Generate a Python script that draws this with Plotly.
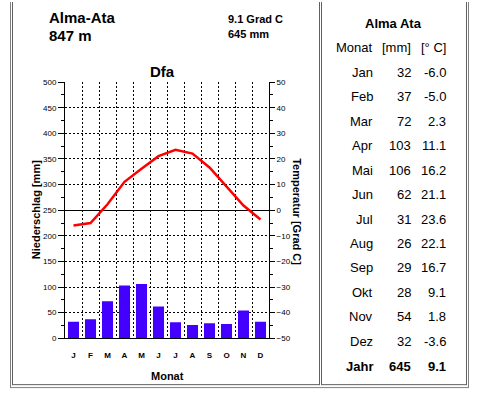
import plotly.graph_objects as go

W, H = 479, 396

station = "Alma-Ata"
station_table = "Alma Ata"
elevation = "847 m"
climate_class = "Dfa"
annual_temp_label = "9.1 Grad C"
annual_precip_label = "645 mm"

months_short = ["J", "F", "M", "A", "M", "J", "J", "A", "S", "O", "N", "D"]
months_table = ["Jan", "Feb", "Mar", "Apr", "Mai", "Jun", "Jul", "Aug", "Sep", "Okt", "Nov", "Dez"]
precip = [32, 37, 72, 103, 106, 62, 31, 26, 29, 28, 54, 32]
temp = [-6.0, -5.0, 2.3, 11.1, 16.2, 21.1, 23.6, 22.1, 16.7, 9.1, 1.8, -3.6]
year_precip = 645
year_temp = 9.1

FONT = "Liberation Sans, Arial, Helvetica, sans-serif"


def px(x):
    return x / W


def py(y):
    return 1 - y / H


x_idx = list(range(len(months_short)))

fig = go.Figure()
fig.add_trace(go.Bar(x=x_idx, y=precip, marker=dict(color="#4400FF", line=dict(width=0)),
                     width=0.65, xaxis="x", yaxis="y", showlegend=False))
fig.add_trace(go.Scatter(x=x_idx, y=temp, mode="lines", line=dict(color="#FF0000", width=2.5),
                         xaxis="x", yaxis="y2", showlegend=False))

annotations = []


def ann(text, x, y, size, bold=False, xanchor="center", textangle=0, color="black"):
    annotations.append(dict(text=text, x=px(x), y=py(y), xref="paper", yref="paper",
                            showarrow=False, xanchor=xanchor, yanchor="middle",
                            textangle=textangle,
                            font=dict(family=FONT, size=size, color=color,
                                      weight="bold" if bold else "normal")))


# Header texts of the chart
ann(station, 47, 14, 15, bold=True, xanchor="left")
ann(elevation, 47, 32, 15, bold=True, xanchor="left")
ann(annual_temp_label, 226, 15, 11, bold=True, xanchor="left")
ann(annual_precip_label, 226, 31, 11, bold=True, xanchor="left")
ann(climate_class, 162, 69, 15, bold=True)
ann("Niederschlag [mm]", 36, 211, 11, bold=True, textangle=-90)
ann("Temperatur [Grad C]", 297, 212, 11, bold=True, textangle=90)
ann("Monat", 167, 381, 11, bold=True)

# Table
ann(station_table, 393, 20, 13, bold=True)
ann("Monat", 375, 45, 13, xanchor="right")
ann("[mm]", 413, 45, 13, xanchor="right")
ann("[° C]", 448, 45, 13, xanchor="right")
for i, m in enumerate(months_table):
    yy = 70 + 25 * i
    ann(m, 375, yy, 13, xanchor="right")
    ann(str(precip[i]), 413, yy, 13, xanchor="right")
    ann(f"{temp[i]:.1f}", 448, yy, 13, xanchor="right")
ann("Jahr", 375, 371, 13, bold=True, xanchor="right")
ann(str(year_precip), 413, 371, 13, bold=True, xanchor="right")
ann(f"{year_temp:.1f}", 448, 371, 13, bold=True, xanchor="right")

# Frame lines (table borders)
shapes = []


def vline(x, y0, y1, color):
    shapes.append(dict(type="line", xref="paper", yref="paper", x0=px(x), x1=px(x),
                       y0=py(y0), y1=py(y1), line=dict(color=color, width=1)))


def hline(y, x0, x1, color):
    shapes.append(dict(type="line", xref="paper", yref="paper", x0=px(x0), x1=px(x1),
                       y0=py(y), y1=py(y), line=dict(color=color, width=1)))


vline(10.5, -2, 393, "#808080")
vline(12.5, -2, 390, "#606060")
vline(319.5, -2, 390, "#606060")
vline(321.5, -2, 390, "#606060")
vline(466.5, -2, 390, "#606060")
vline(468.5, -2, 393, "#808080")
hline(389.5, 12.5, 319.5, "#606060")
hline(389.5, 321.5, 466.5, "#606060")
hline(392.5, 10.5, 468.5, "#808080")

fig.update_layout(
    width=W, height=H, autosize=False,
    margin=dict(l=0, r=0, t=0, b=0, pad=0),
    paper_bgcolor="white", plot_bgcolor="white",
    bargap=0.35,
    annotations=annotations, shapes=shapes,
    font=dict(family=FONT, color="black"),
    xaxis=dict(domain=[px(65), px(269)], range=[-0.5, 11.5], tickmode="array",
               tickvals=x_idx, ticktext=months_short,
               ticks="outside", ticklen=9, tickcolor="rgba(0,0,0,0)",
               tickfont=dict(size=8, weight="bold"),
               showgrid=False, zeroline=False, showline=True, linecolor="black", linewidth=1,
               minor=dict(tickmode="array", tickvals=[i + 0.5 for i in range(11)],
                          showgrid=True, griddash="2px,2px", gridcolor="black", gridwidth=1,
                          ticks=""),
               anchor="y", fixedrange=True),
    yaxis=dict(domain=[py(342), py(80)], range=[0, 500], dtick=50, tick0=0,
               ticks="outside", ticklen=6, tickcolor="black",
               tickfont=dict(size=8),
               showgrid=True, griddash="2px,2px", gridcolor="black", gridwidth=1,
               minor=dict(dtick=25, tick0=0, ticks="outside", ticklen=3, tickcolor="black",
                          showgrid=False),
               zeroline=False, showline=True, linecolor="black", linewidth=1,
               anchor="x", fixedrange=True),
    yaxis2=dict(overlaying="y", side="right", range=[-50, 50], dtick=10, tick0=0,
                ticks="outside", ticklen=5, tickcolor="black",
                tickfont=dict(size=8),
                showgrid=False,
                minor=dict(dtick=5, tick0=0, ticks="outside", ticklen=3, tickcolor="black",
                           showgrid=False),
                zeroline=True, zerolinecolor="black", zerolinewidth=1,
                showline=True, linecolor="black", linewidth=1,
                anchor="x", fixedrange=True),
)

fig.write_html("out.html", config={"displayModeBar": False})

# remove default page margins so the figure fills the window exactly
with open("out.html", "r", encoding="utf-8") as f:
    html = f.read()
html = html.replace("<head>", "<head><style>html,body{margin:0;padding:0;overflow:hidden;}</style>", 1)
with open("out.html", "w", encoding="utf-8") as f:
    f.write(html)
